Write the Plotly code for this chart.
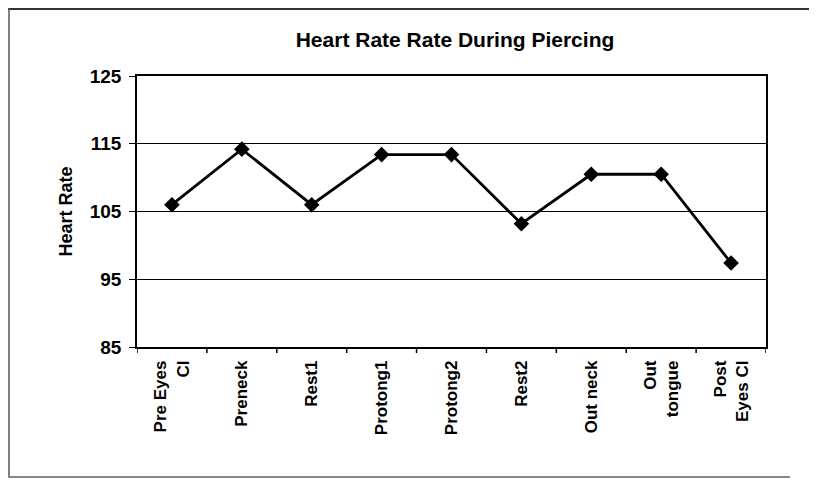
import plotly.graph_objects as go

categories = ["Pre Eyes<br>Cl", "Preneck", "Rest1", "Protong1", "Protong2",
              "Rest2", "Out neck", "Out<br>tongue", "Post<br>Eyes Cl"]
heart_rate = [106, 114.2, 106, 113.4, 113.4, 103.2, 110.5, 110.5, 97.4]
y_ticks = [85, 95, 105, 115, 125]

FONT = "Liberation Sans, Arial, sans-serif"

# page has an 8px body margin; work in page coordinates and offset
OFF = 8
W, H = 817 - OFF, 480 - OFF
L, R, T, B = 137 - OFF, 51, 76 - OFF, 133
pw, ph = W - L - R, H - T - B

def px(x):
    return (x - OFF - L) / pw

def py(y):
    return 1 - (y - OFF - T) / ph

fig = go.Figure()
fig.add_trace(go.Scatter(
    x=list(range(len(categories))), y=heart_rate,
    mode="lines+markers",
    line=dict(color="black", width=2.8),
    marker=dict(symbol="diamond", size=12, color="black"),
    showlegend=False,
))

shapes = [
    dict(type="line", xref="paper", yref="paper", x0=px(8), x1=px(817), y0=py(9), y1=py(9),
         line=dict(color="#333", width=2)),
    dict(type="line", xref="paper", yref="paper", x0=px(9), x1=px(9), y0=py(8), y1=py(477),
         line=dict(color="#555", width=1.5)),
    dict(type="line", xref="paper", yref="paper", x0=px(8), x1=px(790), y0=py(477), y1=py(477),
         line=dict(color="#888", width=2)),
]

fig.update_layout(
    width=W, height=H,
    margin=dict(l=L, r=R, t=T, b=B),
    paper_bgcolor="white", plot_bgcolor="white",
    font=dict(family=FONT, color="black"),
    title=dict(text="<b>Heart Rate Rate During Piercing</b>", xref="container",
               x=(455 - OFF) / W, xanchor="center",
               yref="container", y=1 - (40 - OFF) / H, yanchor="middle",
               font=dict(size=21, family=FONT)),
    xaxis=dict(
        range=[-0.5, len(categories) - 0.5],
        tickmode="array", tickvals=list(range(len(categories))),
        ticktext=["<b>" + c + "</b>" for c in categories],
        tickangle=-90, tickfont=dict(size=17, family=FONT),
        showgrid=False, zeroline=False,
        showline=True, linecolor="black", linewidth=1.5, mirror=True,
        ticks="", ticklabelstandoff=5,
    ),
    yaxis=dict(
        range=[85, 125], tickmode="array", tickvals=y_ticks,
        ticktext=["<b>%d</b>" % v for v in y_ticks],
        tickfont=dict(size=19, family=FONT),
        ticks="outside", ticklen=6, tickcolor="black",
        showgrid=True, gridcolor="black", gridwidth=1.3,
        showline=True, linecolor="black", linewidth=1.5, mirror=True,
        zeroline=False, ticklabelstandoff=4,
        title=dict(text="<b>Heart Rate</b>", font=dict(size=18, family=FONT), standoff=12),
    ),
    shapes=shapes,
)

# category separator ticks on the x axis (between categories)
for i in range(len(categories) + 1):
    fig.add_shape(type="line", xref="x", yref="paper", x0=i - 0.5, x1=i - 0.5,
                  y0=0, y1=-6 / ph, line=dict(color="black", width=1.5))

fig.write_html("out.html")
